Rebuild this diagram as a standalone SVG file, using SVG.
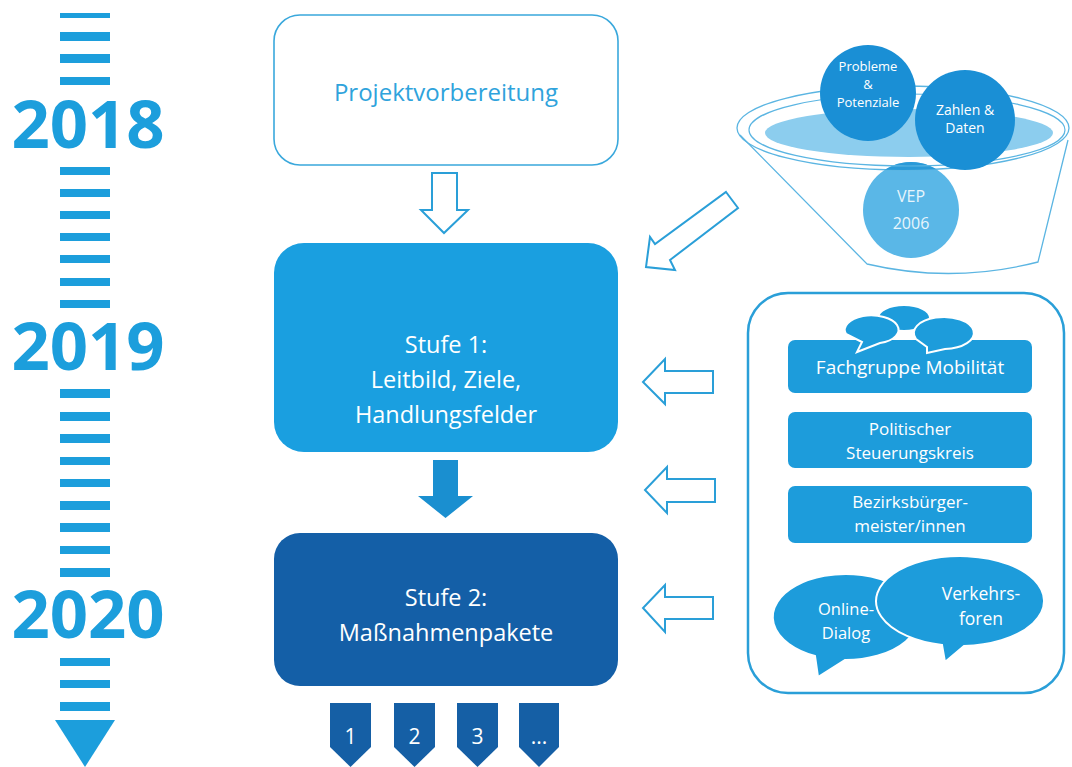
<svg xmlns="http://www.w3.org/2000/svg" width="1072" height="767" viewBox="0 0 1072 767">
<defs>
<style>
.tl{fill:#1c9edc}
.yr{font-family:"Open Sans","Liberation Sans",sans-serif;font-weight:bold;font-size:67px;fill:#1c9edc;text-anchor:middle}
.t{font-family:"Open Sans","Liberation Sans",sans-serif;text-anchor:middle}
.w{fill:#ffffff}
.hol{fill:#ffffff;stroke:#2a9fd8;stroke-width:2;stroke-linejoin:miter}
.inner{fill:#1d9cdb}
.tag{fill:#155fa5}
</style>
<clipPath id="rimclip"><ellipse cx="903" cy="128" rx="166" ry="42"/></clipPath>
</defs>

<g id="timeline">
<rect class="tl" x="60" y="13" width="50" height="5"/>
<rect class="tl" x="60" y="32" width="50" height="9"/>
<rect class="tl" x="60" y="54" width="50" height="9"/>
<rect class="tl" x="60" y="77" width="50" height="8"/>
<text class="yr" x="88" y="148">2018</text>
<rect class="tl" x="60" y="167" width="50" height="8"/>
<rect class="tl" x="60" y="189" width="50" height="8"/>
<rect class="tl" x="60" y="211" width="50" height="8"/>
<rect class="tl" x="60" y="233" width="50" height="8"/>
<rect class="tl" x="60" y="255" width="50" height="8"/>
<rect class="tl" x="60" y="278" width="50" height="8"/>
<rect class="tl" x="60" y="300" width="50" height="8"/>
<text class="yr" x="88" y="370">2019</text>
<rect class="tl" x="60" y="389" width="50" height="9"/>
<rect class="tl" x="60" y="412" width="50" height="9"/>
<rect class="tl" x="60" y="434" width="50" height="9"/>
<rect class="tl" x="60" y="457" width="50" height="8"/>
<rect class="tl" x="60" y="479" width="50" height="8"/>
<rect class="tl" x="60" y="501" width="50" height="9"/>
<rect class="tl" x="60" y="523" width="50" height="9"/>
<rect class="tl" x="60" y="546" width="50" height="8"/>
<rect class="tl" x="60" y="568" width="50" height="9"/>
<text class="yr" x="88" y="638">2020</text>
<rect class="tl" x="60" y="658" width="50" height="8"/>
<rect class="tl" x="60" y="680" width="50" height="8"/>
<rect class="tl" x="60" y="702" width="50" height="9"/>
<polygon class="tl" points="55,720 115,720 85,767"/>
</g>

<g id="projektvorbereitung">
<rect x="274" y="15" width="344" height="150" rx="26" fill="#ffffff" stroke="#3aa8dc" stroke-width="1.6"/>
<text class="t" x="446" y="101" font-size="24" fill="#2fa3dc">Projektvorbereitung</text>
</g>

<g id="stufe1">
<rect x="274" y="243" width="344" height="209" rx="30" fill="#1a9fe0"/>
<text class="t w" x="446" y="353" font-size="23.5">Stufe 1:</text>
<text class="t w" x="446" y="388" font-size="23.5">Leitbild, Ziele,</text>
<text class="t w" x="446" y="423" font-size="23.5">Handlungsfelder</text>
</g>

<g id="stufe2">
<rect x="274" y="533" width="344" height="153" rx="26" fill="#145fa7"/>
<text class="t w" x="446" y="606" font-size="23.5">Stufe 2:</text>
<text class="t w" x="446" y="641" font-size="23.5">Maßnahmenpakete</text>
</g>

<g id="pakete">
<polygon class="tag" points="330,703 371,703 371,747 350.5,767 330,747"/>
<polygon class="tag" points="394,703 435,703 435,747 414.5,767 394,747"/>
<polygon class="tag" points="457,703 498,703 498,747 477.5,767 457,747"/>
<polygon class="tag" points="519,703 559,703 559,747 539,767 519,747"/>
<text class="t w" x="350.5" y="744" font-size="21">1</text>
<text class="t w" x="414.5" y="744" font-size="21">2</text>
<text class="t w" x="477.5" y="744" font-size="21">3</text>
<text class="t w" x="539" y="744" font-size="21">...</text>
</g>

<g id="funnel">
<path d="M740,135 L867,264 Q952,284 1038,262 L1068,140" fill="#ffffff" stroke="#5bb5e2" stroke-width="1.3"/>
<circle cx="911" cy="210" r="48" fill="#5ab7e7"/>
<ellipse cx="903" cy="128" rx="166" ry="42" fill="#ffffff" fill-opacity="0" stroke="#5bb5e2" stroke-width="1.3"/>
<circle cx="911" cy="210" r="48" fill="#2a9ad8" clip-path="url(#rimclip)"/>
<ellipse cx="907" cy="130" rx="158" ry="36" fill="none" stroke="#5bb5e2" stroke-width="1.2"/>
<ellipse cx="909" cy="133" rx="144" ry="24" fill="#8ccdee"/>
<circle cx="868" cy="93" r="48" fill="#1a8fd5"/>
<circle cx="965" cy="120" r="50" fill="#1a8fd5"/>
<text class="t w" x="868" y="71" font-size="13">Probleme</text>
<text class="t w" x="868" y="89" font-size="13">&amp;</text>
<text class="t w" x="868" y="107" font-size="13">Potenziale</text>
<text class="t w" x="965" y="115" font-size="14">Zahlen &amp;</text>
<text class="t w" x="965" y="133" font-size="14">Daten</text>
<text class="t" x="911" y="202" font-size="16" fill="#e8f5fc">VEP</text>
<text class="t" x="911" y="229" font-size="16" fill="#e8f5fc">2006</text>
</g>

<g id="gremien">
<rect x="748" y="293" width="316" height="400" rx="40" fill="#ffffff" stroke="#2a9fd8" stroke-width="2.5"/>
<rect class="inner" x="788" y="340" width="244" height="53" rx="7"/>
<g fill="#1d9cdb" stroke="#ffffff" stroke-width="2">
<ellipse cx="904" cy="318" rx="26" ry="13"/>
<path d="M846,334 A27,14 0 1 1 880,343 L857,352 L862,342 Z"/>
<path d="M916,339 A30,16 0 1 1 945,349 L927,353 L927,347 Z"/>
</g>
<text class="t w" x="910" y="374" font-size="19">Fachgruppe Mobilität</text>
<rect class="inner" x="788" y="412" width="244" height="56" rx="7"/>
<text class="t w" x="910" y="435" font-size="17">Politischer</text>
<text class="t w" x="910" y="459" font-size="17">Steuerungskreis</text>
<rect class="inner" x="788" y="486" width="244" height="57" rx="7"/>
<text class="t w" x="910" y="508" font-size="17">Bezirksbürger-</text>
<text class="t w" x="910" y="532" font-size="17">meister/innen</text>
<g fill="#1d9cdb" stroke="#ffffff" stroke-width="2">
<path d="M815,656 A73,43 0 1 1 845,660 L818,677 Z"/>
<path d="M942,645 A84,45 0 1 1 964,646 L945,662 Z"/>
</g>
<text class="t w" x="846" y="615" font-size="16.5">Online-</text>
<text class="t w" x="846" y="639" font-size="16.5">Dialog</text>
<text class="t w" x="981" y="600" font-size="17.5">Verkehrs-</text>
<text class="t w" x="981" y="625" font-size="17.5">foren</text>
</g>

<g id="connectors">
<polygon class="hol" points="432,173 457,173 457,210 468,210 444,233 421,210 432,210"/>
<polygon points="433,460 458,460 458,496 473,496 445.5,518 418,496 433,496" fill="#1a8fd0"/>
<polygon class="hol" points="726,192 738,208 670,260 675,270 646,267 650,237 655,244"/>
<polygon class="hol" points="713,371 665,371 665,359 643,382 665,404 665,393 713,393"/>
<polygon class="hol" points="715,479 667,479 667,467 645,490 667,513 667,502 715,502"/>
<polygon class="hol" points="713,597 665,597 665,585 643,608 665,632 665,619 713,619"/>
</g>
</svg>
